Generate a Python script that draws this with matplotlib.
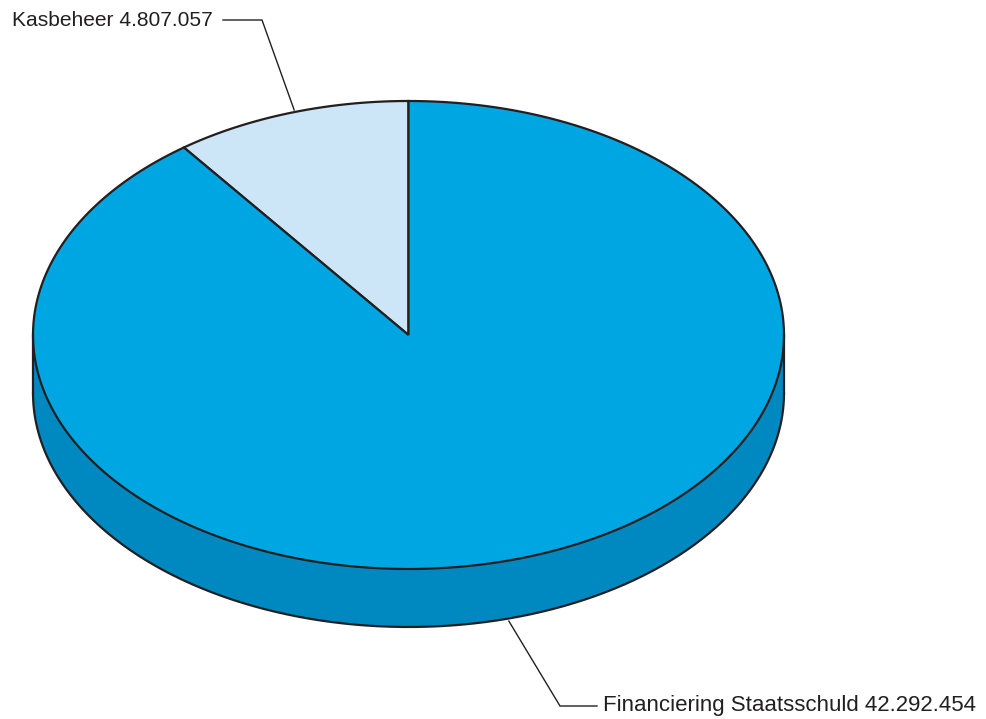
import numpy as np
import matplotlib
matplotlib.use("Agg")
import matplotlib.pyplot as plt
from matplotlib.patches import Polygon

labels = ["Kasbeheer", "Financiering Staatsschuld"]
values = [4807057, 42292454]
value_texts = ["4.807.057", "42.292.454"]
top_colors = ["#cde6f7", "#00a6e2"]
side_colors = ["#b0d4ec", "#0089c1"]

W, H = 987, 719
fig = plt.figure(figsize=(W / 100, H / 100), dpi=100)
ax = fig.add_axes([0, 0, 1, 1])
ax.set_xlim(0, W)
ax.set_ylim(H, 0)
ax.axis("off")

cx, cy, a, b, depth = 408.5, 335, 375.5, 234, 58
edge = "#231f20"
lw = 1.6

def pt(theta_deg, dy=0):
    t = np.radians(theta_deg)
    return cx + a * np.cos(t), cy - b * np.sin(t) + dy

total = sum(values)
start = 90.0
angles = []
for v in values:
    sweep = 360.0 * v / total
    angles.append((start, start + sweep))
    start += sweep

# side faces (front half: 180..360)
for (t0, t1), col in zip(angles, side_colors):
    segs = []
    for off in (0, 360):
        l2, h2 = max(t0 - off, 180), min(t1 - off, 360)
        if h2 > l2:
            segs.append((l2, h2))
    for l2, h2 in segs:
        th = np.linspace(l2, h2, 200)
        xs, ys = pt(th)
        xb, yb = pt(th[::-1], depth)
        poly = np.column_stack([np.concatenate([xs, xb]), np.concatenate([ys, yb])])
        ax.add_patch(Polygon(poly, closed=True, facecolor=col, edgecolor="none", zorder=1))
# side outline
th = np.linspace(180, 360, 300)
xb, yb = pt(th, depth)
ax.plot(xb, yb, color=edge, lw=lw, zorder=3, solid_capstyle="round")
for ang in (180, 360):
    x0, y0 = pt(ang)
    ax.plot([x0, x0], [y0, y0 + depth], color=edge, lw=lw, zorder=3)

# top faces
for (t0, t1), col in zip(angles, top_colors):
    th = np.linspace(t0, t1, 300)
    xs, ys = pt(th)
    poly = np.column_stack([np.concatenate([[cx], xs]), np.concatenate([[cy], ys])])
    ax.add_patch(Polygon(poly, closed=True, facecolor=col, edgecolor=edge, lw=lw,
                         joinstyle="miter", zorder=2))

# labels with leaders
mid = (angles[0][0] + angles[0][1]) / 2
ex, ey = pt(mid)
ax.plot([223, 262, ex + 4], [20, 20, ey - 3], color=edge, lw=1.0, zorder=4)
ax.text(12, 20, f"{labels[0]} {value_texts[0]}", ha="left", va="center",
        fontsize=15.1, family="Liberation Sans", color="#231f20")

mid = (angles[1][0] + angles[1][1]) / 2
ex, ey = pt(mid, depth)
ax.plot([ex - 18, 560, 597], [ey + 6, 706, 706], color=edge, lw=1.0, zorder=4)
ax.text(603, 705, f"{labels[1]} {value_texts[1]}", ha="left", va="center",
        fontsize=16.0, family="Liberation Sans", color="#231f20")

fig.savefig("out.png", dpi=100)
